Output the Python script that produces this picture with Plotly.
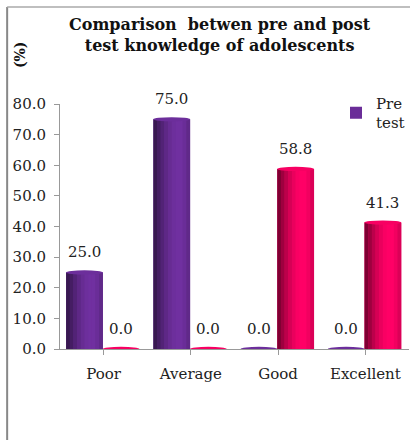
import plotly.graph_objects as go

categories = ["Poor", "Average", "Good", "Excellent"]
pre_test = [25.0, 75.0, 0.0, 0.0]
post_test = [0.0, 0.0, 58.8, 41.3]
y_ticks = [0, 10, 20, 30, 40, 50, 60, 70, 80]
series_names = ["Pre<br>test", "Post<br>test"]

FONT = "DejaVu Serif"
BAR_W = 0.42
OFFSETS = [-0.43, -0.01]
BASE = [(112, 48, 160), (255, 0, 102)]
N_STRIPS = 10
PROFILE = [0.50, 0.62, 0.74, 0.84, 0.92, 0.98, 1.0, 1.0, 0.95, 0.86]


def shade(rgb, f):
    return "rgb(%d,%d,%d)" % tuple(int(min(255, c * f)) for c in rgb)


fig = go.Figure()
xs = list(range(len(categories)))
for s, vals in enumerate([pre_test, post_test]):
    fig.add_trace(go.Bar(
        x=xs, y=vals, name=series_names[s],
        width=BAR_W, offset=OFFSETS[s],
        marker=dict(color=shade(BASE[s], 0.95), line=dict(width=0)),
        showlegend=(s == 0), hoverinfo="skip",
    ))
    sw = BAR_W / N_STRIPS
    for k in range(N_STRIPS):
        fig.add_trace(go.Bar(
            x=xs, y=vals, width=sw * 1.05, offset=OFFSETS[s] + k * sw,
            marker=dict(color=shade(BASE[s], PROFILE[k]), line=dict(width=0)),
            showlegend=False, hoverinfo="skip",
        ))
    for i, v in enumerate(vals):
        x0 = i + OFFSETS[s]
        fig.add_shape(type="circle", xref="x", yref="y",
                      x0=x0, x1=x0 + BAR_W, y0=v - 0.7, y1=v + 0.7,
                      fillcolor=shade(BASE[s], 0.97), line=dict(width=0), layer="above")
        fig.add_annotation(x=x0 + BAR_W / 2, y=v, text="%.1f" % v, showarrow=False,
                           yanchor="middle", yshift=20,
                           font=dict(family=FONT, size=15, color="#222"))

fig.update_layout(
    width=410, height=440,
    margin=dict(l=60, r=0, t=104, b=91),
    barmode="overlay",
    paper_bgcolor="white", plot_bgcolor="white",
    font=dict(family=FONT, color="#222"),
    showlegend=True,
    legend=dict(x=0.79, y=1.07, xanchor="left", yanchor="top",
                bgcolor="rgba(0,0,0,0)", font=dict(family=FONT, size=15, color="#222"),
                itemwidth=30, tracegroupgap=0),
    xaxis=dict(
        tickmode="array", tickvals=xs, ticktext=categories,
        range=[-0.5, len(categories) - 0.5],
        showline=True, linecolor="#999", linewidth=1,
        ticks="outside", ticklen=5, tickcolor="#999", tickson="boundaries",
        showgrid=False, zeroline=False,
        tickfont=dict(family=FONT, size=15, color="#222"), ticklabelstandoff=6,
    ),
    yaxis=dict(
        range=[0, 80], tickvals=y_ticks, tickformat=".1f",
        showline=True, linecolor="#999", linewidth=1,
        ticks="outside", ticklen=5, tickcolor="#999",
        showgrid=False, zeroline=False,
        tickfont=dict(family=FONT, size=15, color="#222"), ticklabelstandoff=5,
    ),
)

fig.add_annotation(xref="paper", yref="paper", x=(220 - 60) / 350, y=(349 - 35) / 245,
                   text="<b>Comparison  betwen pre and post<br>test knowledge of adolescents</b>",
                   showarrow=False, xanchor="center", yanchor="middle",
                   font=dict(family=FONT, size=16, color="#111"))
fig.add_annotation(xref="paper", yref="paper", x=(20 - 60) / 350, y=(349 - 55) / 245,
                   text="<b>(%)</b>", textangle=-90, showarrow=False,
                   xanchor="center", yanchor="middle",
                   font=dict(family=FONT, size=14, color="#111"))
fig.add_shape(type="line", xref="paper", yref="paper",
              x0=(7 - 60) / 350, x1=(7 - 60) / 350, y0=(349 - 7) / 245, y1=(349 - 445) / 245,
              line=dict(color="#888", width=2))
fig.add_shape(type="line", xref="paper", yref="paper",
              x0=(7 - 60) / 350, x1=(415 - 60) / 350, y0=(349 - 7) / 245, y1=(349 - 7) / 245,
              line=dict(color="#aaa", width=1.5))

fig.write_html("out.html")
